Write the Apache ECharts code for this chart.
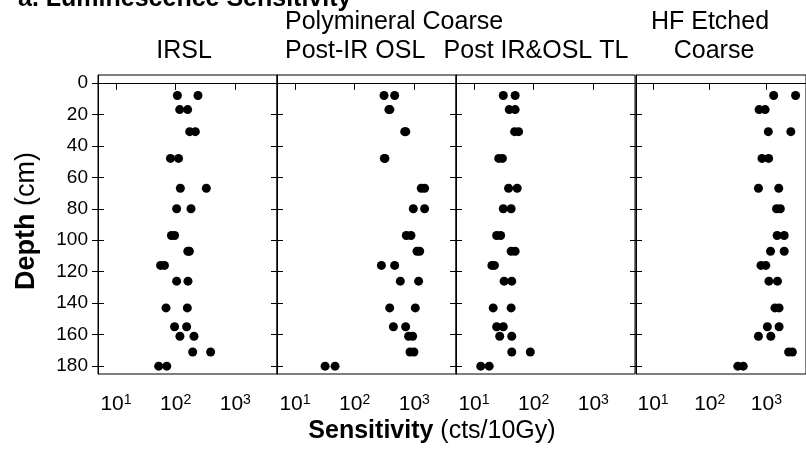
<!DOCTYPE html>
<html>
<head>
<meta charset="utf-8">
<script src="https://cdn.jsdelivr.net/npm/echarts@6/dist/echarts.min.js"></script>
<style>html,body{margin:0;padding:0;background:#fff;}#c{width:806px;height:450px;}</style>
</head>
<body>
<div id="c"></div>
<script>
// Depth (cm) of each sample pair
const depth = [8, 17, 31, 48, 67, 80, 97, 107, 116, 126, 143, 155, 161, 171, 180];
// Sensitivity (cts/10Gy), two aliquots per depth
const irslA = [107, 117, 172, 82, 120, 104, 85, 160, 56, 104, 69, 96, 118, 193, 52];
const irslB = [237, 159, 214, 112, 327, 181, 96, 170, 65, 161, 157, 153, 203, 386, 71];
const postIrOslA = [311, 375, 690, 315, 1309, 962, 735, 1110, 281, 583, 387, 446, 803, 847, 32];
const postIrOslB = [469, 390, 720, 322, 1489, 1489, 879, 1230, 469, 1181, 1040, 716, 938, 986, 47];
const tlA = [31, 39, 48, 26, 38, 31, 24, 42, 20, 32, 21, 24, 27, 43, 13];
const tlB = [49, 49, 56, 30, 53, 42, 28, 49, 22, 43, 42, 31, 43, 88, 18];
const hfA = [1345, 743, 1081, 836, 724, 1510, 1549, 1183, 803, 1109, 1416, 1040, 724, 2466, 313];
const hfB = [3273, 950, 2700, 1095, 1652, 1762, 2061, 2061, 975, 1570, 1675, 1675, 1197, 2877, 390];
const depthTicks = [0, 20, 40, 60, 80, 100, 120, 140, 160, 180];
const sensTicks = [10, 100, 1000];
const panels = [[irslA, irslB], [postIrOslA, postIrOslB], [tlA, tlB], [hfA, hfB]];

const FONT = '"Liberation Sans", Arial, sans-serif';
const gridLefts = [98, 277, 456, 636];
const panelW = 179;

const grids = [], xAxes = [], yAxes = [], series = [];
panels.forEach((p, i) => {
  grids.push({left: gridLefts[i], top: 75, width: panelW, height: 299, show: true,
    borderColor: '#000', borderWidth: 1, backgroundColor: 'transparent', containLabel: false});
  xAxes.push({type: 'log', logBase: 10, min: 5, max: 5000, gridIndex: i,
    axisLine: {show: true, lineStyle: {color: '#000', width: 1}},
    axisTick: {show: true, inside: false, length: 7, lineStyle: {color: '#000'}, customValues: sensTicks},
    axisLabel: {show: true, margin: 19, customValues: sensTicks, color: '#000',
      formatter: v => '{n|10}{s|' + Math.round(Math.log10(v)) + '}',
      rich: {n: {fontSize: 21, fontFamily: FONT, color: '#000'},
             s: {fontSize: 14, fontFamily: FONT, color: '#000', verticalAlign: 'top', padding: [0, 0, 9, 0]}}},
    splitLine: {show: false}, minorTick: {show: false}});
  yAxes.push({type: 'value', inverse: true, min: -5, max: 185, gridIndex: i, position: 'left',
    axisLine: {show: true, onZero: false, lineStyle: {color: '#000', width: 1}},
    axisTick: {show: true, inside: false, length: 6, lineStyle: {color: '#000'}, customValues: depthTicks},
    axisLabel: {show: i === 0, margin: 10, customValues: depthTicks, fontSize: 19, fontFamily: FONT, color: '#000'},
    splitLine: {show: false}});
  yAxes.push({type: 'value', inverse: true, min: -5, max: 185, gridIndex: i, position: 'left',
    axisLine: {show: false, onZero: false},
    axisTick: {show: true, inside: true, length: 6, lineStyle: {color: '#000'}, customValues: depthTicks},
    axisLabel: {show: false}, splitLine: {show: false}});
  p.forEach(vals => {
    series.push({type: 'scatter', xAxisIndex: i, yAxisIndex: 2 * i, symbol: 'circle', symbolSize: 9,
      itemStyle: {color: '#000', opacity: 1}, data: vals.map((v, k) => [v, depth[k]]), silent: true});
  });
});

const txt = (text, x, y, size, align, extra) => Object.assign({type: 'text', x: x, y: y,
  style: {text: text, fontSize: size, fontFamily: FONT, fill: '#000', align: align, verticalAlign: 'middle'}}, extra || {});

const graphic = [
  txt('a. Luminescence Sensitivity', 18, -1, 25, 'left', {}),
  txt('Polymineral Coarse', 285, 22, 25, 'left'),
  txt('IRSL', 184, 51, 25, 'center'),
  txt('Post-IR OSL', 285, 51, 25, 'left'),
  txt('Post IR&OSL TL', 536, 51, 25, 'center'),
  txt('HF Etched', 710, 22, 25, 'center'),
  txt('Coarse', 714, 51, 25, 'center'),
  {type: 'text', x: 432, y: 431, style: {text: '{b|Sensitivity} (cts/10Gy)', fontSize: 25, fontFamily: FONT, fill: '#000',
    align: 'center', verticalAlign: 'middle', rich: {b: {fontSize: 25, fontWeight: 'bold', fontFamily: FONT, fill: '#000'}}}},
  {type: 'text', x: 27, y: 221, rotation: Math.PI / 2, style: {text: '{b|Depth} (cm)', fontSize: 27, fontFamily: FONT, fill: '#000',
    align: 'center', verticalAlign: 'middle', rich: {b: {fontSize: 27, fontWeight: 'bold', fontFamily: FONT, fill: '#000'}}}}
];
graphic[0].style.fontWeight = 'bold';

const chart = echarts.init(document.getElementById('c'), null, {renderer: 'canvas'});
chart.setOption({animation: false, backgroundColor: '#fff', grid: grids, xAxis: xAxes, yAxis: yAxes, series: series, graphic: graphic});
</script>
</body>
</html>
